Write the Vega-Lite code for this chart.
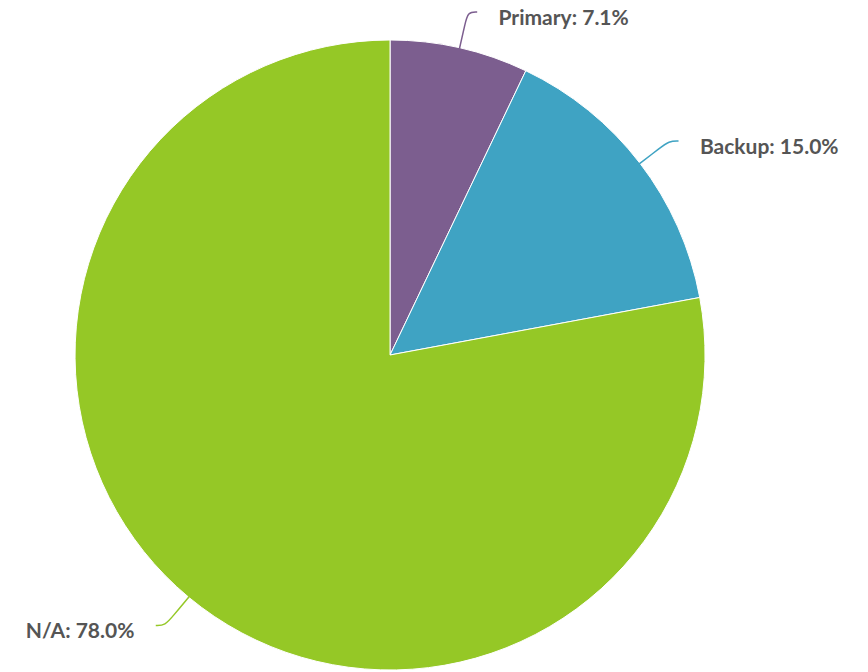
{
  "$schema": "https://vega.github.io/schema/vega-lite/v6.json",
  "width": 868,
  "height": 672,
  "padding": 0,
  "autosize": {"type": "none"},
  "background": "white",
  "config": {"view": {"stroke": null}},
  "data": {"values": [
    {"category": "Primary", "value": 7.1},
    {"category": "Backup", "value": 15.0},
    {"category": "N/A", "value": 78.0}
  ]},
  "transform": [
    {"window": [{"op": "sum", "field": "value", "as": "cum"}], "sort": [{"field": "value", "order": "ascending"}], "frame": [null, 0]},
    {"joinaggregate": [{"op": "sum", "field": "value", "as": "total"}]},
    {"calculate": "(datum.cum - datum.value / 2) / datum.total * 2 * PI", "as": "mid"},
    {"calculate": "sin(datum.mid)", "as": "sx"},
    {"calculate": "cos(datum.mid)", "as": "cy"},
    {"calculate": "datum.sx >= 0 ? 1 : -1", "as": "side"},
    {"calculate": "datum.category + ': ' + format(datum.value, '.1f') + '%'", "as": "label"}
  ],
  "layer": [
    {
      "mark": {"type": "arc", "radius": 315, "stroke": "white", "strokeWidth": 1},
      "encoding": {
        "theta": {"field": "value", "type": "quantitative", "stack": true},
        "order": {"field": "value", "type": "quantitative", "sort": "ascending"},
        "color": {"field": "category", "type": "nominal", "legend": null,
          "scale": {"domain": ["Primary", "Backup", "N/A"], "range": ["#7c5e8f", "#3fa3c3", "#95c826"]}},
        "x": {"datum": 0, "type": "quantitative", "scale": {"domain": [-1.242, 1.522], "nice": false, "zero": false}, "axis": null},
        "y": {"datum": 0, "type": "quantitative", "scale": {"domain": [-1.0096, 1.1306], "nice": false, "zero": false}, "axis": null}
      }
    },
    {
      "transform": [
        {"calculate": "[0, 1, 2, 3]", "as": "k"},
        {"flatten": ["k"]},
        {"calculate": "datum.k == 0 ? datum.sx : datum.k == 1 ? 1.08 * datum.sx : datum.k == 2 ? 1.12 * datum.sx : 1.12 * datum.sx + datum.side * 0.03", "as": "px"},
        {"calculate": "datum.k == 0 ? datum.cy : datum.k == 1 ? 1.08 * datum.cy : 1.12 * datum.cy", "as": "py"}
      ],
      "mark": {"type": "line", "interpolate": "basis", "strokeWidth": 1.5},
      "encoding": {
        "x": {"field": "px", "type": "quantitative", "scale": {"domain": [-1.242, 1.522], "nice": false, "zero": false}, "axis": null},
        "y": {"field": "py", "type": "quantitative", "scale": {"domain": [-1.0096, 1.1306], "nice": false, "zero": false}, "axis": null},
        "detail": {"field": "category"},
        "order": {"field": "k", "type": "quantitative"},
        "color": {"field": "category", "type": "nominal", "legend": null,
          "scale": {"domain": ["Primary", "Backup", "N/A"], "range": ["#7c5e8f", "#3fa3c3", "#95c826"]}}
      }
    },
    {
      "transform": [
        {"filter": "datum.side > 0"},
        {"calculate": "1.12 * datum.sx + 0.098", "as": "tx"},
        {"calculate": "1.12 * datum.cy", "as": "ty"}
      ],
      "mark": {"type": "text", "align": "left", "baseline": "middle", "dy": 7, "font": "Lato", "fontWeight": "bold", "fontSize": 21, "color": "#555555"},
      "encoding": {
        "x": {"field": "tx", "type": "quantitative", "scale": {"domain": [-1.242, 1.522], "nice": false, "zero": false}, "axis": null},
        "y": {"field": "ty", "type": "quantitative", "scale": {"domain": [-1.0096, 1.1306], "nice": false, "zero": false}, "axis": null},
        "text": {"field": "label"}
      }
    },
    {
      "transform": [
        {"filter": "datum.side < 0"},
        {"calculate": "1.12 * datum.sx - 0.098", "as": "tx"},
        {"calculate": "1.12 * datum.cy", "as": "ty"}
      ],
      "mark": {"type": "text", "align": "right", "baseline": "middle", "dy": 7, "font": "Lato", "fontWeight": "bold", "fontSize": 21, "color": "#555555"},
      "encoding": {
        "x": {"field": "tx", "type": "quantitative", "scale": {"domain": [-1.242, 1.522], "nice": false, "zero": false}, "axis": null},
        "y": {"field": "ty", "type": "quantitative", "scale": {"domain": [-1.0096, 1.1306], "nice": false, "zero": false}, "axis": null},
        "text": {"field": "label"}
      }
    }
  ]
}
